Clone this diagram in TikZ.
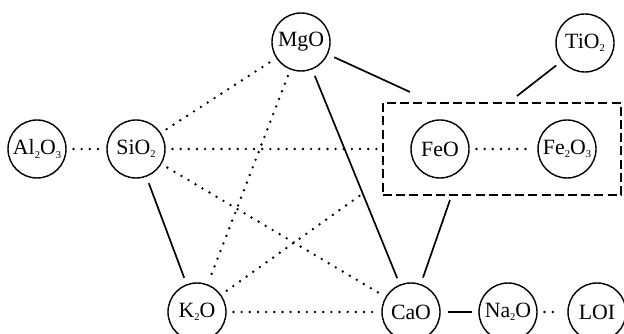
\documentclass[tikz,border=0pt]{standalone}
\usepackage{fontspec}
\setmainfont{Liberation Serif}
\newcommand{\oxSub}[1]{\raisebox{-0.35ex}{\fontsize{7.5}{8}\selectfont #1}}

\begin{document}
\begin{tikzpicture}
[oxideNode/.style={circle,draw,line width=1pt,minimum size=1.45cm,inner sep=0pt,%
    font=\fontsize{15.5}{17}\selectfont},%
  linkSolid/.style={line width=1.2pt,shorten <=0.17cm,shorten >=0.17cm},%
  linkDotted/.style={line width=1.9pt,line cap=round,dash pattern=on 0pt off 5.8pt,%
    shorten <=0.17cm,shorten >=0.17cm},%
  groupBox/.style={draw,line width=1.2pt,dash pattern=on 6.4pt off 3pt,%
    minimum width=5.95cm,minimum height=2.3cm,inner sep=0pt}]
\useasboundingbox (0,0) rectangle (15.6,8.35);
%% oxide nodes
\foreach \nodename/\x/\y/\txt in {al2o3/0.925/4.625/{Al\oxSub{2}O\oxSub{3}},
  sio2/3.4/4.625/{SiO\oxSub{2}}, mgo/7.525/7.3/{MgO},
  tio2/14.625/7.275/{TiO\oxSub{2}}, feo/11.0/4.625/{FeO},
  fe2o3/14.175/4.625/{Fe\oxSub{2}O\oxSub{3}},
  k2o/4.925/0.55/{K\oxSub{2}O}, cao/10.275/0.55/{CaO},
  na2o/12.7/0.55/{Na\oxSub{2}O}, loi/14.925/0.55/{LOI}}
{
  \node (\nodename) at (\x,\y) [oxideNode] {\txt};
}
%% the dashed box round the iron oxides
\node (ironBox) at (12.55,4.625) [groupBox] {};
%% free ends at the box
\coordinate (mgoEnd) at (10.25,6.05);
\coordinate (tioEnd) at (12.925,5.95);
\coordinate (caoEnd) at (11.25,3.35);
\coordinate (sioEnd) at (9.425,4.625);
\coordinate (kEnd) at (9.05,3.5);
%% solid links
\draw[linkSolid] (sio2) -- (k2o);
\draw[linkSolid] (mgo) -- (cao);
\draw[linkSolid] (cao) -- (na2o);
\draw[linkSolid,shorten >=0pt] (mgo) -- (mgoEnd);
\draw[linkSolid,shorten >=0pt] (tio2) -- (tioEnd);
\draw[linkSolid,shorten >=0pt] (cao) -- (caoEnd);
%% dotted links
\draw[linkDotted] (al2o3) -- (sio2);
\draw[linkDotted] (sio2) -- (mgo);
\draw[linkDotted] (sio2) -- (cao);
\draw[linkDotted] (mgo) -- (k2o);
\draw[linkDotted] (k2o) -- (cao);
\draw[linkDotted] (feo) -- (fe2o3);
\draw[linkDotted] (na2o) -- (loi);
\draw[linkDotted,shorten >=0pt] (sio2) -- (sioEnd);
\draw[linkDotted,shorten >=0pt] (k2o) -- (kEnd);
\end{tikzpicture}
\end{document}
